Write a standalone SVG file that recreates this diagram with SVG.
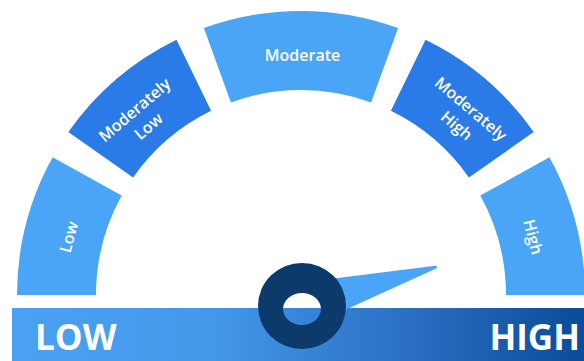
<svg xmlns="http://www.w3.org/2000/svg" width="584" height="361" viewBox="0 0 584 361">
  <defs>
    <linearGradient id="barGrad" x1="12" y1="0" x2="584" y2="0" gradientUnits="userSpaceOnUse">
      <stop offset="0" stop-color="#4AA1F2"/>
      <stop offset="0.35" stop-color="#4398EA"/>
      <stop offset="0.65" stop-color="#2E74C8"/>
      <stop offset="1" stop-color="#0A4C99"/>
    </linearGradient>
    <style>
      .light { fill: #4AA5F7; }
      .dark { fill: #2A7AE7; }
      .lbl { fill: #FFFFFF; font-family: "Open Sans", "Liberation Sans", sans-serif; font-weight: 600; font-size: 16px; text-anchor: middle; }
      .big { fill: #FFFFFF; font-family: "Open Sans", "Liberation Sans", sans-serif; font-weight: 700; font-size: 35px; }
    </style>
  </defs>
  <rect width="584" height="361" fill="#FFFFFF"/>

  <g id="bar">
    <rect x="12" y="308" width="572" height="53" fill="url(#barGrad)"/>
    <text class="big" x="35" y="350">LOW</text>
    <text class="big" x="580" y="350" text-anchor="end">HIGH</text>
  </g>

  <g id="seg-low">
    <path class="light" d="M17,295 A284,284 0 0 1 52.6,157.3 L121.7,195.6 A205,205 0 0 0 96,295 Z"/>
    <text class="lbl" transform="translate(69,237) rotate(-75)" y="5.5">Low</text>
  </g>
  <g id="seg-modlow">
    <path class="dark" d="M68.3,132.1 A284,284 0 0 1 176.5,39.7 L211.1,110.7 A205,205 0 0 0 133.1,177.4 Z"/>
    <text class="lbl" transform="translate(141.5,118) rotate(-40.5)"><tspan x="0" y="-5">Moderately</tspan><tspan x="0" y="16.5">Low</tspan></text>
  </g>
  <g id="seg-moderate">
    <path class="light" d="M203.9,28.1 A284,284 0 0 1 398.1,28.1 L371.1,102.4 A205,205 0 0 0 230.9,102.4 Z"/>
    <text class="lbl" x="302.5" y="60.5">Moderate</text>
  </g>
  <g id="seg-modhigh">
    <path class="dark" d="M425.5,39.7 A284,284 0 0 1 533.7,132.1 L468.9,177.4 A205,205 0 0 0 390.9,110.7 Z"/>
    <text class="lbl" transform="translate(464,117) rotate(40.5)"><tspan x="0" y="-5">Moderately</tspan><tspan x="0" y="17">High</tspan></text>
  </g>
  <g id="seg-high">
    <path class="light" d="M549.4,157.3 A284,284 0 0 1 585,295 L506,295 A205,205 0 0 0 480.3,195.6 Z"/>
    <text class="lbl" transform="translate(533,237) rotate(76)" y="5.5">High</text>
  </g>

  <g id="needle">
    <polygon points="330,280.5 435.5,267.2 330,315.2" fill="#4AA5F7" stroke="#4AA5F7" stroke-width="3" stroke-linejoin="round"/>
    <path d="M258,306 A44,43 0 1 0 346,306 A44,43 0 1 0 258,306 Z M283,309 A19,16 0 1 1 321,309 A19,16 0 1 1 283,309 Z" fill="#0B3A6B" fill-rule="evenodd"/>
  </g>
</svg>
